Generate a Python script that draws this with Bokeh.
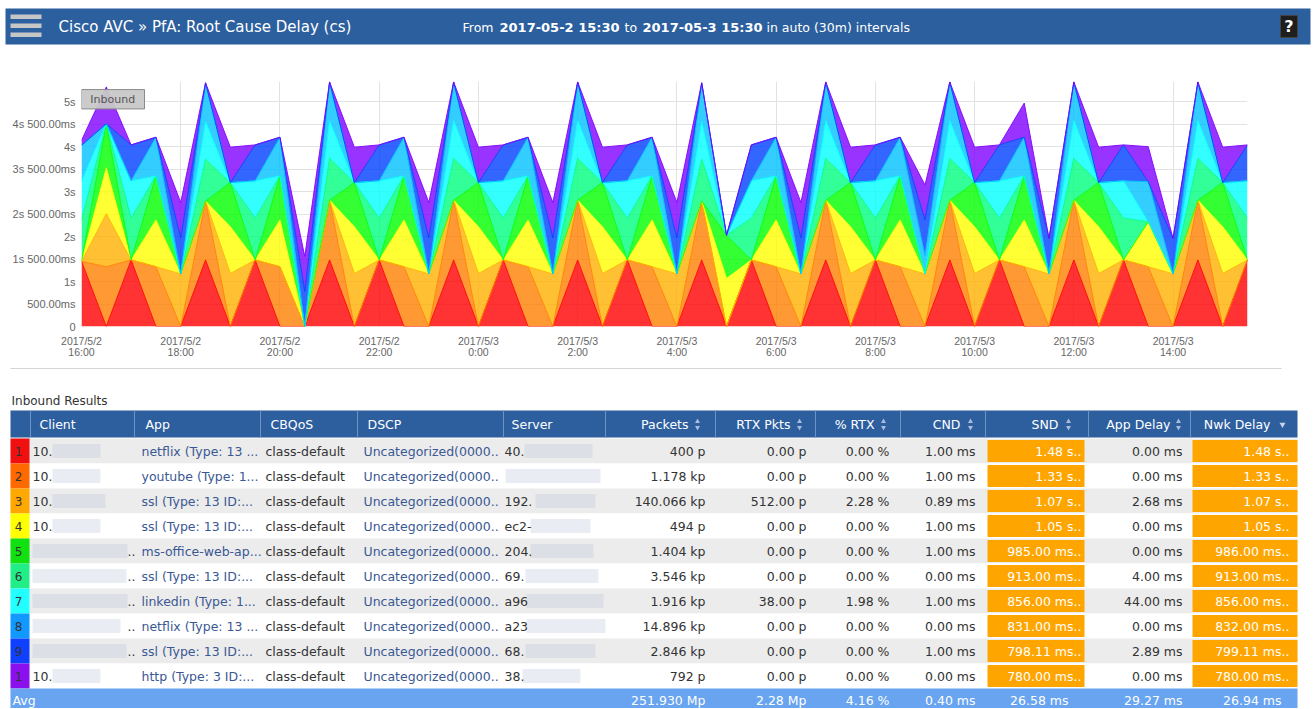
import numpy as np
from bokeh.plotting import figure
from bokeh.layouts import column
from bokeh.models import FixedTicker, Range1d, ColumnDataSource
from bokeh.embed import file_html
from bokeh.resources import INLINE
from bokeh.core.properties import value

# ---------------- chart data (seconds, 30-minute slots from 2017/5/2 16:00) ----------------
x_hours = [16.0 + 0.5 * i for i in range(48)]

s1 = [1.45, 0, 1.48, 0, 0, 1.48, 0, 1.48, 0, 0,
      1.48, 0, 1.48, 0, 0, 1.48, 0, 1.48, 0, 0,
      1.48, 0, 1.48, 0, 0, 1.48, 0, 1.48, 0, 0,
      1.48, 0, 1.48, 0, 0, 1.48, 0, 1.48, 0, 0,
      1.48, 0, 1.48, 0, 0, 1.48, 0, 1.48]
s2 = [0, 1.33, 0, 1.33, 0, 1.31, 0, 0, 1.33, 0,
      1.33, 0, 0, 1.33, 0, 1.33, 0, 0, 1.33, 0,
      1.33, 0, 0, 1.33, 0, 1.31, 0, 0, 1.33, 0,
      1.33, 0, 0, 1.33, 0, 1.33, 0, 0, 1.33, 0,
      1.33, 0, 0, 1.33, 0, 1.33, 0, 0]
s3 = [0, 1.18, 0, 0, 1.17, 0, 1.18, 0, 0, 0,
      0, 1.18, 0, 0, 1.17, 0, 1.18, 0, 0, 1.17,
      0, 1.18, 0, 0, 1.17, 0, 0, 0, 0, 1.17,
      0, 1.18, 0, 0, 1.17, 0, 1.18, 0, 0, 1.17,
      0, 1.18, 0, 0, 1.17, 0, 1.18, 0]
s4 = [0, 1.02, 0, 1.04, 0, 0, 1.04, 0, 1.04, 0,
      0, 1.04, 0, 1.04, 0, 0, 1.04, 0, 1.04, 0,
      0, 1.04, 0, 1.04, 0, 0, 1.07, 0, 1.04, 0,
      0, 1.04, 0, 1.04, 0, 0, 1.04, 0, 1.04, 0,
      0, 1.04, 0, 1.00, 0, 0, 1.04, 0]
s5 = [0, 0.98, 0, 0.98, 0, 0, 0.98, 0, 0.98, 0,
      0, 0.98, 0, 0.98, 0, 0, 0.98, 0, 0.98, 0,
      0, 0.98, 0, 0.98, 0, 0, 0.96, 0, 0.98, 0,
      0, 0.98, 0, 0.98, 0, 0, 0.98, 0, 0.98, 0,
      0, 0.98, 0, 0, 0, 0, 0.98, 0]
s6 = [0.92, 0, 0.93, 0, 0, 0.93, 0, 0.93, 0, 0,
      0.93, 0, 0.93, 0, 0, 0.93, 0, 0.93, 0, 0,
      0.93, 0, 0.93, 0, 0, 0.93, 0, 0.93, 0, 0,
      0.93, 0, 0.93, 0, 0, 0.93, 0, 0.93, 0, 0,
      0.93, 0, 0.93, 0, 0, 0.93, 0, 0.93]
s7 = [0.86, 0, 0.83, 0, 0, 0.84, 0, 0.83, 0, 0,
      0.84, 0, 0.83, 0, 0, 0.84, 0, 0.83, 0, 0,
      0.84, 0, 0.83, 0, 0, 0.84, 0, 0.83, 0, 0,
      0.84, 0, 0.83, 0, 0, 0.84, 0, 0.83, 0, 0,
      0.84, 0, 0.83, 0, 0, 0.84, 0, 0.83]
s8 = [0.80, 0, 0, 0.86, 0, 0.86, 0, 0, 0.86, 0,
      0.86, 0, 0, 0.86, 0, 0.86, 0, 0, 0.86, 0,
      0.86, 0, 0, 0.86, 0, 0.86, 0, 0, 0.86, 0,
      0.86, 0, 0, 0.86, 0.40, 0.86, 0, 0, 0.86, 0,
      0.86, 0, 0, 0.89, 0, 0.86, 0, 0]
s9 = [0, 0, 0.80, 0, 0.80, 0, 0, 0.80, 0, 0.78,
      0, 0, 0.80, 0, 0.80, 0, 0, 0.80, 0, 0.80,
      0, 0, 0.80, 0, 0.80, 0, 0, 0.80, 0, 0.80,
      0, 0, 0.80, 0, 0.80, 0, 0, 0.80, 0, 0.79,
      0, 0, 0.80, 0, 0.79, 0, 0, 0.80]
s10 = [0.11, 0.82, 0, 0, 0.79, 0, 0.79, 0, 0, 0.78,
       0, 0.79, 0, 0, 0.79, 0, 0.79, 0, 0, 0.79,
       0, 0.79, 0, 0, 0.79, 0, 0, 0, 0, 0.79,
       0, 0.79, 0, 0, 0.78, 0, 0.79, 0, 0.76, 0,
       0, 0.79, 0, 0.78, 0, 0, 0.79, 0]

x_ticks = [16, 18, 20, 22, 24, 26, 28, 30, 32, 34, 36, 38]
x_tick_labels = ["2017/5/2\n16:00", "2017/5/2\n18:00", "2017/5/2\n20:00", "2017/5/2\n22:00",
                 "2017/5/3\n0:00", "2017/5/3\n2:00", "2017/5/3\n4:00", "2017/5/3\n6:00",
                 "2017/5/3\n8:00", "2017/5/3\n10:00", "2017/5/3\n12:00", "2017/5/3\n14:00"]
y_ticks = [0, 0.5, 1, 1.5, 2, 2.5, 3, 3.5, 4, 4.5, 5]
y_tick_labels = ["0", "500.00ms", "1s", "1s 500.00ms", "2s", "2s 500.00ms", "3s",
                 "3s 500.00ms", "4s", "4s 500.00ms", "5s"]

# ---------------- table data ----------------
ranks = ["1", "2", "3", "4", "5", "6", "7", "8", "9", "1"]
clients = ["10.", "10.", "10.", "10.", "", "", "", "", "", "10."]
client_more = ["", "", "", "", "..", "..", "..", "..", "..", ""]
apps = ["netflix (Type: 13 ...", "youtube (Type: 1...", "ssl (Type: 13 ID:...", "ssl (Type: 13 ID:...",
        "ms-office-web-ap...", "ssl (Type: 13 ID:...", "linkedin (Type: 1...", "netflix (Type: 13 ...",
        "ssl (Type: 13 ID:...", "http (Type: 3 ID:..."]
cbqos = ["class-default"] * 10
dscp = ["Uncategorized(0000.."] * 10
servers = ["40.", "", "192.", "ec2-", "204.", "69.", "a96", "a23", "68.", "38."]
packets = ["400 p", "1.178 kp", "140.066 kp", "494 p", "1.404 kp", "3.546 kp", "1.916 kp",
           "14.896 kp", "2.846 kp", "792 p"]
rtx_pkts = ["0.00 p", "0.00 p", "512.00 p", "0.00 p", "0.00 p", "0.00 p", "38.00 p", "0.00 p",
            "0.00 p", "0.00 p"]
pct_rtx = ["0.00 %", "0.00 %", "2.28 %", "0.00 %", "0.00 %", "0.00 %", "1.98 %", "0.00 %",
           "0.00 %", "0.00 %"]
cnd = ["1.00 ms", "1.00 ms", "0.89 ms", "1.00 ms", "1.00 ms", "0.00 ms", "1.00 ms", "0.00 ms",
       "1.00 ms", "0.00 ms"]
snd = ["1.48 s..", "1.33 s..", "1.07 s..", "1.05 s..", "985.00 ms..", "913.00 ms..", "856.00 ms..",
       "831.00 ms..", "798.11 ms..", "780.00 ms.."]
app_delay = ["0.00 ms", "0.00 ms", "2.68 ms", "0.00 ms", "0.00 ms", "4.00 ms", "44.00 ms", "0.00 ms",
             "2.89 ms", "0.00 ms"]
nwk_delay = ["1.48 s..", "1.33 s..", "1.07 s..", "1.05 s..", "986.00 ms..", "913.00 ms..",
             "856.00 ms..", "832.00 ms..", "799.11 ms..", "780.00 ms.."]
avg_row = ["251.930 Mp", "2.28 Mp", "4.16 %", "0.40 ms", "26.58 ms", "29.27 ms", "26.94 ms"]
headers_left = ["Client", "App", "CBQoS", "DSCP", "Server"]
headers_right = ["Packets", "RTX Pkts", "% RTX", "CND", "SND", "App Delay", "Nwk Delay"]

# ---------------- styles ----------------
FONT = "DejaVu Sans"
AXFONT = "Liberation Sans"
W = 1314
BLUE = "#2d5f9f"
series_colors = ["#ff0000", "#ff8000", "#ffb000", "#ffff00", "#00ff00",
                 "#00ff80", "#00ffff", "#00c0ff", "#0040ff", "#8000ff"]
rank_colors = ["#f01010", "#ff6a00", "#ffa800", "#ffff00", "#11e011",
               "#22ee88", "#22ffff", "#1199ff", "#1040ff", "#8a10ee"]


def txt(fig, x, y, s, size="12.5px", color="#333333", align="left", bold=False, font=FONT):
    fig.text(x=x if isinstance(x, list) else [x], y=y if isinstance(y, list) else [y],
             text=s if isinstance(s, list) else [s],
             text_font=value(font), text_font_size=size, text_color=color,
             text_align=align, text_baseline="middle",
             text_font_style="bold" if bold else "normal")


def bare(fig):
    fig.axis.visible = False
    fig.grid.visible = False
    fig.outline_line_color = None
    fig.min_border = 0


def no_align(fig):
    try:
        fig.frame_align = False
    except Exception:
        pass


# ---------------- header (page y 0..58) ----------------
H_H = 58
h = figure(width=W, height=H_H, x_range=Range1d(0, W), y_range=Range1d(H_H, 0),
           output_backend="svg", toolbar_location=None, min_border=0)
bare(h)
no_align(h)
h.quad(left=5, right=1310, top=8, bottom=44, fill_color="#2c5f9e", line_color=None)
h.quad(left=[10, 10, 10], right=[41, 41, 41], top=[14, 23, 32], bottom=[18.5, 27.5, 36.5],
       fill_color="#c6c6c6", line_color=None)
txt(h, 58, 26, "Cisco AVC \u00bb PfA: Root Cause Delay (cs)", size="15px", color="white")
txt(h, 462, 27, "From", size="12.5px", color="white")
txt(h, 499, 27, "2017-05-2 15:30", size="13px", color="white", bold=True)
txt(h, 624, 27, "to", size="12.5px", color="white")
txt(h, 642, 27, "2017-05-3 15:30", size="13px", color="white", bold=True)
txt(h, 766, 27, "in auto (30m) intervals", size="12.5px", color="white")
h.quad(left=1280, right=1297, top=15, bottom=37, fill_color="#1e1e1e", line_color="#444444")
txt(h, 1288.5, 26, "?", size="16px", color="white", align="center", bold=True)

# ---------------- chart (page y 58..366) ----------------
keys = ["s1", "s2", "s3", "s4", "s5", "s6", "s7", "s8", "s9", "s10"]
src = ColumnDataSource(dict(x=x_hours, s1=s1, s2=s2, s3=s3, s4=s4, s5=s5,
                            s6=s6, s7=s7, s8=s8, s9=s9, s10=s10))
p = figure(width=W, height=308, x_range=Range1d(16, 39.5), y_range=Range1d(0, 5.45),
           output_backend="svg", toolbar_location=None,
           min_border_left=81, min_border_right=W - 1247, min_border_top=23, min_border_bottom=40)
no_align(p)
p.outline_line_color = None
p.varea_stack(stackers=keys, x="x", fill_color=series_colors, fill_alpha=0.8, source=src)
p.vline_stack(stackers=keys, x="x", line_color=series_colors, line_alpha=0.9, line_width=1, source=src)

p.xaxis.ticker = FixedTicker(ticks=x_ticks)
p.xaxis.major_label_overrides = {t: l for t, l in zip(x_ticks, x_tick_labels)}
p.yaxis.ticker = FixedTicker(ticks=y_ticks)
p.yaxis.major_label_overrides = {(int(t) if float(t).is_integer() else t): l
                                 for t, l in zip(y_ticks, y_tick_labels)}
for ax in (p.xaxis, p.yaxis):
    ax.axis_line_color = None
    ax.major_tick_line_color = None
    ax.minor_tick_line_color = None
    ax.major_label_text_font = AXFONT
    ax.major_label_text_color = "#666666"
p.yaxis.major_label_text_font_size = "11px"
p.yaxis.major_label_standoff = 0
p.xaxis.major_label_text_font_size = "10.5px"
p.xaxis.major_label_text_line_height = 0.95
p.xaxis.major_label_standoff = 2
p.xgrid.ticker = FixedTicker(ticks=x_ticks)
p.ygrid.ticker = FixedTicker(ticks=y_ticks)
p.xgrid.grid_line_color = "#e2e2e2"
p.ygrid.grid_line_color = "#e2e2e2"

p.quad(left=16.0, right=17.27, top=5.27, bottom=4.84, fill_color="#c8c8c8", fill_alpha=0.95,
       line_color="#8a8a8a", line_width=1)
txt(p, 16.63, 5.055, "Inbound", size="11px", color="#555555", align="center", font=FONT)

# ---------------- table (page y 366..708) ----------------
OY = 366
T_H = 342
t = figure(width=W, height=T_H, x_range=Range1d(0, W), y_range=Range1d(T_H, 0),
           output_backend="svg", toolbar_location=None, min_border=0)
bare(t)
no_align(t)
t.segment(x0=[10], y0=[368 - OY], x1=[1281], y1=[368 - OY], line_color="#d4d4d4", line_width=1)
txt(t, 11, 400 - OY, "Inbound Results", size="12px", color="#333333")

# header row
t.quad(left=10, right=1297, top=410 - OY, bottom=437 - OY, fill_color=BLUE, line_color=None)
seps = [30, 134, 260, 357, 503, 605, 715, 815, 900, 985, 1088, 1190]
t.segment(x0=seps, y0=[410 - OY] * len(seps), x1=seps, y1=[437 - OY] * len(seps),
          line_color="#6f92c4", line_width=1)
hy = 424 - OY
txt(t, [39, 145, 270, 367, 511], [hy] * 5, headers_left, color="white")
txt(t, [688, 790, 874, 960, 1058, 1170, 1270], [hy] * 7, headers_right, color="white", align="right")
icon_x = [697, 799, 883, 970, 1068, 1178]
t.scatter(x=icon_x, y=[hy - 3] * 6, marker="triangle", size=5, fill_color="#a9bcd9", line_color=None)
t.scatter(x=icon_x, y=[hy + 3] * 6, marker="inverted_triangle", size=5, fill_color="#a9bcd9", line_color=None)
t.scatter(x=[1282], y=[hy], marker="inverted_triangle", size=6, fill_color="#c9d5e8", line_color=None)

pitch = 25
tops = [438 - OY + pitch * k for k in range(10)]
bots = [tp + pitch for tp in tops]
mids = [tp + pitch / 2 for tp in tops]
bg = ["#ececec" if k % 2 == 0 else "#ffffff" for k in range(10)]
t.quad(left=10, right=1297, top=tops, bottom=bots, fill_color=bg, line_color=None)
t.quad(left=10, right=29, top=tops, bottom=bots, fill_color=rank_colors, line_color=None)
txt(t, [18] * 10, mids, ranks, size="12px", color="#333333", align="center")

# blurred (anonymised) parts
cb_l = [52, 52, 52, 52, 32, 32, 32, 32, 32, 52]
cb_r = [100, 100, 105, 100, 127, 126, 127, 120, 126, 100]
t.quad(left=cb_l, right=cb_r, top=[m - 7 for m in mids], bottom=[m + 7 for m in mids],
       fill_color="#b7c1d3", fill_alpha=0.3, line_color=None)
sb_l = [524, 505, 535, 530, 530, 525, 526, 526, 525, 522]
sb_r = [592, 600, 595, 590, 593, 598, 603, 605, 595, 580]
t.quad(left=sb_l, right=sb_r, top=[m - 7 for m in mids], bottom=[m + 7 for m in mids],
       fill_color="#b7c1d3", fill_alpha=0.3, line_color=None)

LINK = "#3a5893"
txt(t, [32] * 10, mids, clients, color="#333333")
txt(t, [127] * 10, mids, client_more, color="#333333")
txt(t, [141] * 10, mids, apps, color=LINK)
txt(t, [265] * 10, mids, cbqos, color="#333333")
txt(t, [363] * 10, mids, dscp, color=LINK)
txt(t, [504] * 10, mids, servers, color="#333333")
txt(t, [705] * 10, mids, packets, align="right")
txt(t, [806] * 10, mids, rtx_pkts, align="right")
txt(t, [889] * 10, mids, pct_rtx, align="right")
txt(t, [975] * 10, mids, cnd, align="right")
t.quad(left=987, right=1084, top=[tp + 1.5 for tp in tops], bottom=[b - 1.5 for b in bots],
       fill_color="#ffa500", line_color=None)
txt(t, [1081] * 10, mids, snd, color="white", align="right")
txt(t, [1182] * 10, mids, app_delay, align="right")
t.quad(left=1192, right=1297, top=[tp + 1.5 for tp in tops], bottom=[b - 1.5 for b in bots],
       fill_color="#ffa500", line_color=None)
txt(t, [1289] * 10, mids, nwk_delay, color="white", align="right")

# average row
a_top = bots[-1]
t.quad(left=10, right=1297, top=a_top, bottom=T_H, fill_color="#68a4ef", line_color=None)
a_mid = 700 - OY
txt(t, 12, a_mid, "Avg", color="white")
txt(t, [705, 806, 889, 975, 1068, 1182, 1281], [a_mid] * 7, avg_row, color="white", align="right")

layout = column(h, p, t)
open("out.html", "w").write(file_html(layout, INLINE))
